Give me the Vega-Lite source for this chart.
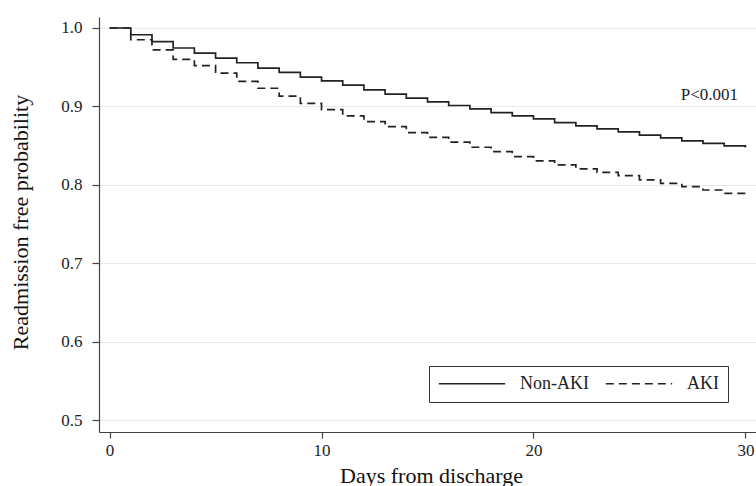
{
  "$schema": "https://vega.github.io/schema/vega-lite/v6.json",
  "width": 657,
  "height": 415,
  "autosize": "none",
  "padding": {"left": 99, "top": 17, "right": 0, "bottom": 54},
  "background": "white",
  "config": {"view": {"stroke": null}, "font": "Liberation Serif"},
  "datasets": {
    "km": [
      {"day": 0, "prob": 1.0, "group": "Non-AKI"},
      {"day": 1, "prob": 0.9914, "group": "Non-AKI"},
      {"day": 2, "prob": 0.9825, "group": "Non-AKI"},
      {"day": 3, "prob": 0.9745, "group": "Non-AKI"},
      {"day": 4, "prob": 0.968, "group": "Non-AKI"},
      {"day": 5, "prob": 0.9617, "group": "Non-AKI"},
      {"day": 6, "prob": 0.9557, "group": "Non-AKI"},
      {"day": 7, "prob": 0.9489, "group": "Non-AKI"},
      {"day": 8, "prob": 0.9433, "group": "Non-AKI"},
      {"day": 9, "prob": 0.9374, "group": "Non-AKI"},
      {"day": 10, "prob": 0.9327, "group": "Non-AKI"},
      {"day": 11, "prob": 0.9272, "group": "Non-AKI"},
      {"day": 12, "prob": 0.9212, "group": "Non-AKI"},
      {"day": 13, "prob": 0.9157, "group": "Non-AKI"},
      {"day": 14, "prob": 0.9106, "group": "Non-AKI"},
      {"day": 15, "prob": 0.9059, "group": "Non-AKI"},
      {"day": 16, "prob": 0.9012, "group": "Non-AKI"},
      {"day": 17, "prob": 0.897, "group": "Non-AKI"},
      {"day": 18, "prob": 0.8922, "group": "Non-AKI"},
      {"day": 19, "prob": 0.888, "group": "Non-AKI"},
      {"day": 20, "prob": 0.8842, "group": "Non-AKI"},
      {"day": 21, "prob": 0.8794, "group": "Non-AKI"},
      {"day": 22, "prob": 0.8752, "group": "Non-AKI"},
      {"day": 23, "prob": 0.8714, "group": "Non-AKI"},
      {"day": 24, "prob": 0.8675, "group": "Non-AKI"},
      {"day": 25, "prob": 0.8633, "group": "Non-AKI"},
      {"day": 26, "prob": 0.86, "group": "Non-AKI"},
      {"day": 27, "prob": 0.856, "group": "Non-AKI"},
      {"day": 28, "prob": 0.8528, "group": "Non-AKI"},
      {"day": 29, "prob": 0.8498, "group": "Non-AKI"},
      {"day": 30, "prob": 0.8475, "group": "Non-AKI"},
      {"day": 0, "prob": 1.0, "group": "AKI"},
      {"day": 1, "prob": 0.985, "group": "AKI"},
      {"day": 2, "prob": 0.972, "group": "AKI"},
      {"day": 3, "prob": 0.96, "group": "AKI"},
      {"day": 4, "prob": 0.952, "group": "AKI"},
      {"day": 5, "prob": 0.9425, "group": "AKI"},
      {"day": 6, "prob": 0.932, "group": "AKI"},
      {"day": 7, "prob": 0.9232, "group": "AKI"},
      {"day": 8, "prob": 0.9132, "group": "AKI"},
      {"day": 9, "prob": 0.904, "group": "AKI"},
      {"day": 10, "prob": 0.896, "group": "AKI"},
      {"day": 11, "prob": 0.888, "group": "AKI"},
      {"day": 12, "prob": 0.8807, "group": "AKI"},
      {"day": 13, "prob": 0.8742, "group": "AKI"},
      {"day": 14, "prob": 0.8667, "group": "AKI"},
      {"day": 15, "prob": 0.8605, "group": "AKI"},
      {"day": 16, "prob": 0.8544, "group": "AKI"},
      {"day": 17, "prob": 0.848, "group": "AKI"},
      {"day": 18, "prob": 0.8424, "group": "AKI"},
      {"day": 19, "prob": 0.836, "group": "AKI"},
      {"day": 20, "prob": 0.8305, "group": "AKI"},
      {"day": 21, "prob": 0.8254, "group": "AKI"},
      {"day": 22, "prob": 0.8203, "group": "AKI"},
      {"day": 23, "prob": 0.816, "group": "AKI"},
      {"day": 24, "prob": 0.8117, "group": "AKI"},
      {"day": 25, "prob": 0.8063, "group": "AKI"},
      {"day": 26, "prob": 0.802, "group": "AKI"},
      {"day": 27, "prob": 0.7977, "group": "AKI"},
      {"day": 28, "prob": 0.7935, "group": "AKI"},
      {"day": 29, "prob": 0.7893, "group": "AKI"},
      {"day": 30, "prob": 0.7858, "group": "AKI"}
    ],
    "annot": [
      {"x": 29.65, "y": 0.9082, "label": "P<0.001"}
    ]
  },
  "layer": [
    {
      "data": {"name": "km"},
      "mark": {"type": "line", "interpolate": "step-after", "strokeWidth": 1.7, "color": "#222"},
      "encoding": {
        "x": {
          "field": "day", "type": "quantitative",
          "scale": {"domain": [-0.5, 30.5], "nice": false, "zero": false},
          "axis": {
            "values": [0, 10, 20, 30], "title": "Days from discharge", "grid": false,
            "domainColor": "#444", "domainWidth": 1.2, "tickColor": "#444", "tickSize": 6, "tickWidth": 1.2,
            "labelPadding": 4, "labelFontSize": 17, "labelFont": "Liberation Serif", "labelColor": "#222", "labelFlush": false,
            "titleFontSize": 22, "titleFontWeight": "normal", "titleFont": "Liberation Serif", "titleColor": "#111",
            "titleX": 332, "titleY": 50, "titleBaseline": "alphabetic", "titleAlign": "center"
          }
        },
        "y": {
          "field": "prob", "type": "quantitative",
          "scale": {"domain": [0.485, 1.014], "nice": false, "zero": false},
          "axis": {
            "values": [0.5, 0.6, 0.7, 0.8, 0.9, 1.0], "format": ".1f", "title": "Readmission  free probability",
            "grid": true, "gridColor": "#e6eaee", "gridWidth": 1,
            "domainColor": "#444", "domainWidth": 1.2, "tickColor": "#444", "tickSize": 7, "tickWidth": 1.2,
            "labelPadding": 10, "labelFontSize": 17, "labelFont": "Liberation Serif", "labelColor": "#222",
            "titleFontSize": 22, "titleFontWeight": "normal", "titleFont": "Liberation Serif", "titleColor": "#111",
            "titleX": -72, "titleY": 205, "titleAngle": 270, "titleBaseline": "alphabetic", "titleAlign": "center"
          }
        },
        "strokeDash": {
          "field": "group", "type": "nominal",
          "scale": {"domain": ["Non-AKI", "AKI"], "range": [[1, 0], [8, 5]]},
          "legend": {
            "orient": "none", "legendX": 330, "legendY": 349, "direction": "horizontal", "title": null,
            "strokeColor": "#333", "fillColor": "white", "padding": 9, "clipHeight": 17,
            "symbolType": "stroke", "symbolSize": 4400, "symbolStrokeWidth": 1.3, "symbolStrokeColor": "#222",
            "labelFont": "Liberation Serif", "labelFontSize": 18, "labelColor": "#222",
            "labelOffset": 14, "columnPadding": 16
          }
        }
      }
    },
    {
      "data": {"name": "annot"},
      "mark": {"type": "text", "align": "right", "baseline": "alphabetic", "font": "Liberation Serif", "fontSize": 17, "color": "#222"},
      "encoding": {
        "x": {"field": "x", "type": "quantitative"},
        "y": {"field": "y", "type": "quantitative"},
        "text": {"field": "label"}
      }
    }
  ]
}
